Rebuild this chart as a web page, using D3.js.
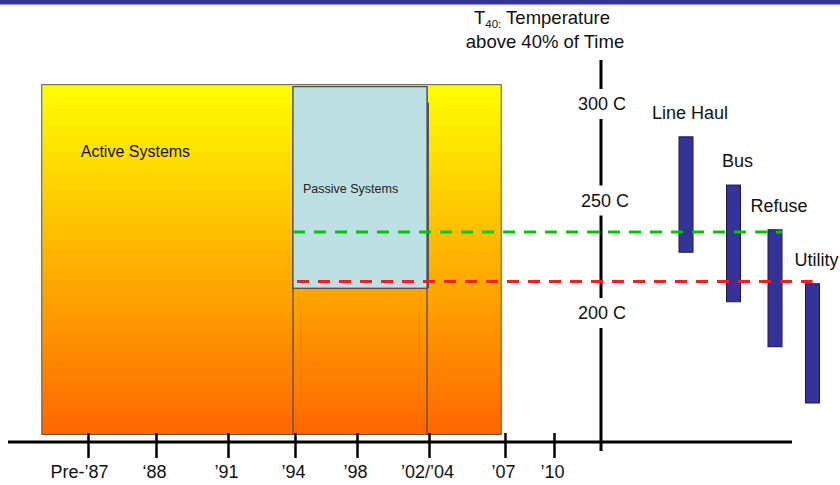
<!DOCTYPE html>
<html>
<head>
<meta charset="utf-8">
<script src="https://cdnjs.cloudflare.com/ajax/libs/d3/7.8.5/d3.min.js"></script>
<style>
  body { margin: 0; background: #fff; }
  svg { display: block; font-family: Arial, 'Liberation Sans', sans-serif; }
</style>
</head>
<body>
<div id="chart"></div>
<script>
// model year ticks along the bottom (slot 8 is where the temperature axis sits)
var tickLabels = ['Pre-\u201987', '\u201888', '\u201991', '\u201994', '\u201998', '\u201902/\u201904', '\u201907', '\u201910'];
var tickSlots = [0, 1, 2, 3, 4, 5, 6, 7];
var tempSlot = 8;

// temperature labels, deg C
var tempTicks = [300, 250, 200];

// T40 range per application, deg C
var apps = ['Line Haul', 'Bus', 'Refuse', 'Utility'];
var appLow = [227, 205, 185, 160];
var appHigh = [283, 258, 237, 213];

// system eras: slot span and temperature span
var eras = ['Active Systems', 'Passive Systems'];
var eraFrom = [-0.68, 3];
var eraTo = [5.95, 5];
var eraLow = [146, 211];
var eraHigh = [310, 309];

// reference levels (dashed)
var refTemps = [236, 214];
var refColors = ['#00c800', '#ff1a1a'];

var width = 840, height = 485;
var axisY = 442;

var svg = d3.select('#chart').append('svg')
    .attr('width', width)
    .attr('height', height);

// slots are not evenly spaced on the slide, so piecewise scale
var x = d3.scaleLinear()
    .domain([0, 1, 2, 3, 4, 5, 6, 7, 8])
    .range([88, 156, 228, 295, 357, 429, 505, 554, 601]);

var y = d3.scaleLinear()
    .domain([200, 250, 300])
    .range([313, 200.5, 104]);

var appX = d3.scaleLinear()
    .domain([0, 1, 2, 3])
    .range([686, 733.5, 775, 812.5]);
var barW = 14;

// header band
svg.append('rect').attr('x', 0).attr('y', 0).attr('width', width).attr('height', 4).attr('fill', '#333399');
svg.append('rect').attr('x', 0).attr('y', 4).attr('width', width).attr('height', 1.2).attr('fill', '#9a9ad0');

var defs = svg.append('defs');
var grad = defs.append('linearGradient')
    .attr('id', 'activeGrad')
    .attr('x1', 0).attr('y1', 0).attr('x2', 0).attr('y2', 1);
grad.append('stop').attr('offset', '0%').attr('stop-color', '#ffff00');
grad.append('stop').attr('offset', '100%').attr('stop-color', '#ff6600');

// active systems box
svg.append('rect')
    .attr('x', x(eraFrom[0]))
    .attr('y', y(eraHigh[0]))
    .attr('width', x(eraTo[0]) - x(eraFrom[0]))
    .attr('height', y(eraLow[0]) - y(eraHigh[0]))
    .attr('fill', 'url(#activeGrad)')
    .attr('stroke', '#555')
    .attr('stroke-width', 1);

svg.append('text')
    .attr('x', x(eraFrom[0]) + 39)
    .attr('y', 157)
    .style('font-size', '16px')
    .attr('fill', '#111')
    .text(eras[0]);

// passive column edges continue down to the axis
[eraFrom[1], eraTo[1]].forEach(function(s) {
  svg.append('line')
      .attr('x1', x(s) - 2).attr('x2', x(s) - 2)
      .attr('y1', y(eraHigh[1])).attr('y2', y(eraLow[0]))
      .attr('stroke', '#4a4a3a')
      .attr('stroke-width', 1.2);
});

// passive box with a small shadow
svg.append('rect')
    .attr('x', x(eraFrom[1]) - 2 + 2)
    .attr('y', y(eraHigh[1]) + 16)
    .attr('width', x(eraTo[1]) - x(eraFrom[1]))
    .attr('height', y(eraLow[1]) - y(eraHigh[1]) - 16)
    .attr('fill', '#5a5a3c');
svg.append('rect')
    .attr('x', x(eraFrom[1]) - 2)
    .attr('y', y(eraHigh[1]))
    .attr('width', x(eraTo[1]) - x(eraFrom[1]))
    .attr('height', y(eraLow[1]) - y(eraHigh[1]))
    .attr('fill', '#bde0e4')
    .attr('stroke', '#4a4a4a')
    .attr('stroke-width', 1.2);

svg.append('text')
    .attr('x', x(eraFrom[1]) + 8)
    .attr('y', 193)
    .style('font-size', '12.5px')
    .attr('fill', '#222')
    .text(eras[1]);

// year axis
svg.append('line')
    .attr('x1', 8).attr('x2', 792)
    .attr('y1', axisY).attr('y2', axisY)
    .attr('stroke', '#000')
    .attr('stroke-width', 3);

var xAxis = d3.axisBottom(x)
    .tickValues(tickSlots)
    .tickFormat(function(d) { return tickLabels[d]; })
    .tickSize(25)
    .tickPadding(7);

var gx = svg.append('g')
    .attr('transform', 'translate(0,' + (axisY - 9) + ')')
    .call(xAxis);
gx.select('.domain').remove();
gx.selectAll('.tick line').attr('stroke', '#000').attr('stroke-width', 2.5);
gx.selectAll('.tick text')
    .attr('fill', '#111')
    .style('font-size', '18px')
    .style('font-family', 'Arial, "Liberation Sans", sans-serif')
    .attr('dx', function(d) { return d === 0 ? -9 : -2; });

// temperature axis
svg.append('line')
    .attr('x1', x(tempSlot)).attr('x2', x(tempSlot))
    .attr('y1', 60).attr('y2', 451)
    .attr('stroke', '#000')
    .attr('stroke-width', 3);

var tl = svg.selectAll('.temp').data(tempTicks).enter().append('g')
    .attr('class', 'temp')
    .attr('transform', function(d) { return 'translate(' + x(tempSlot) + ',' + y(d) + ')'; });
tl.append('rect')
    .attr('x', -30).attr('y', -15)
    .attr('width', 60).attr('height', 30)
    .attr('fill', '#fff');
tl.append('text')
    .attr('text-anchor', 'middle')
    .attr('dx', function(d, i) { return i === 1 ? 4 : 1; })
    .attr('dy', '0.36em')
    .style('font-size', '18px')
    .attr('fill', '#111')
    .text(function(d) { return d + ' C'; });

// title
var title = svg.append('text')
    .attr('x', 542)
    .attr('y', 24)
    .attr('text-anchor', 'middle')
    .style('font-size', '18.5px')
    .attr('fill', '#111');
title.append('tspan').text('T');
title.append('tspan').attr('dy', 4).style('font-size', '11.5px').text('40:');
title.append('tspan').attr('dy', -4).text(' Temperature');
svg.append('text')
    .attr('x', 545)
    .attr('y', 48)
    .attr('text-anchor', 'middle')
    .style('font-size', '18.5px')
    .attr('fill', '#111')
    .text('above 40% of Time');

// application bars
svg.selectAll('.app').data(apps).enter().append('rect')
    .attr('class', 'app')
    .attr('x', function(d, i) { return appX(i) - barW / 2; })
    .attr('y', function(d, i) { return y(appHigh[i]); })
    .attr('width', barW)
    .attr('height', function(d, i) { return y(appLow[i]) - y(appHigh[i]); })
    .attr('fill', '#333399')
    .attr('stroke', '#1c1c40')
    .attr('stroke-width', 1);

svg.selectAll('.appLabel').data(apps).enter().append('text')
    .attr('class', 'appLabel')
    .attr('x', function(d, i) { return appX(i) + 4; })
    .attr('y', function(d, i) { return y(appHigh[i]) - 18; })
    .attr('text-anchor', 'middle')
    .style('font-size', '18px')
    .attr('fill', '#111')
    .text(function(d) { return d; });

// dashed reference levels, drawn over the bars
var refStart = [x(eraFrom[1]) - 2, x(eraFrom[1]) + 2];
var refEnd = [appX(2) + barW / 2, appX(3)];
svg.selectAll('.ref').data(refTemps).enter().append('line')
    .attr('class', 'ref')
    .attr('x1', function(d, i) { return refStart[i]; })
    .attr('x2', function(d, i) { return refEnd[i]; })
    .attr('y1', function(d) { return y(d); })
    .attr('y2', function(d) { return y(d); })
    .attr('stroke', function(d, i) { return refColors[i]; })
    .attr('stroke-width', 3)
    .attr('stroke-dasharray', '12,9');
</script>
</body>
</html>
